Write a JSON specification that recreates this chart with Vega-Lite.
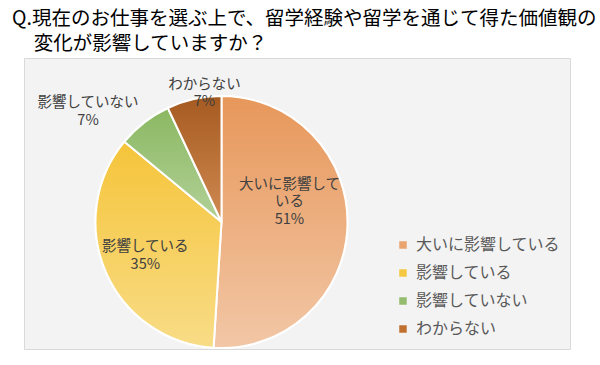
{
  "$schema": "https://vega.github.io/schema/vega-lite/v6.json",
  "autosize": "none",
  "padding": {"left": 24, "top": 58, "right": 30, "bottom": 16},
  "width": 546,
  "height": 291,
  "background": "white",
  "config": {
    "view": {"fill": "#F3F3F3", "stroke": "#D9D9D9", "strokeWidth": 1},
    "font": "Noto Sans CJK JP"
  },
  "title": {
    "text": ["Q.現在のお仕事を選ぶ上で、留学経験や留学を通じて得た価値観の", "\u200b\u00a0\u00a0\u00a0\u00a0\u00a0変化が影響していますか？"],
    "anchor": "start",
    "frame": "group",
    "font": "Noto Sans CJK JP",
    "fontSize": 19.5,
    "fontWeight": "normal",
    "color": "#000000",
    "lineHeight": 25,
    "dx": -12,
    "offset": 4
  },
  "data": {
    "values": [
      {"idx": 1, "cat": "大いに影響している", "value": 51, "label": "大いに影響して\nいる\n51%"},
      {"idx": 2, "cat": "影響している", "value": 35, "label": "影響している\n35%"},
      {"idx": 3, "cat": "影響していない", "value": 7, "label": "影響していない\n7%"},
      {"idx": 4, "cat": "わからない", "value": 7, "label": "わからない\n7%"}
    ]
  },
  "encoding": {
    "theta": {"field": "value", "type": "quantitative", "stack": true},
    "order": {"field": "idx", "type": "quantitative"},
    "x": {"value": 197.5},
    "y": {"value": 164}
  },
  "layer": [
    {
      "mark": {"type": "arc", "outerRadius": 126, "stroke": "white", "strokeWidth": 2},
      "encoding": {
        "color": {
          "field": "cat",
          "type": "nominal",
          "scale": {
            "domain": ["大いに影響している", "影響している", "影響していない", "わからない"],
            "range": ["#E9A46F", "#F5C842", "#93BC6E", "#C0712F"]
          },
          "legend": {
            "title": null,
            "orient": "none",
            "legendX": 371,
            "legendY": 179,
            "padding": 0,
            "symbolType": "square",
            "symbolSize": 56,
            "symbolStrokeWidth": 0,
            "labelFont": "Noto Sans CJK JP",
            "labelFontSize": 16,
            "labelColor": "#595959",
            "labelOffset": 5,
            "rowPadding": 12,
            "labelLimit": 300
          }
        }
      }
    },
    {
      "mark": {"type": "arc", "outerRadius": 126, "stroke": "white", "strokeWidth": 2},
      "encoding": {
        "fill": {
          "condition": [
            {"test": "datum.idx === 1", "value": {"gradient": "linear", "x1": 0, "y1": 0, "x2": 0, "y2": 1, "stops": [{"offset": 0, "color": "#E7975A"}, {"offset": 1, "color": "#F2C7A6"}]}},
            {"test": "datum.idx === 2", "value": {"gradient": "linear", "x1": 0, "y1": 0, "x2": 0, "y2": 1, "stops": [{"offset": 0, "color": "#F5C43A"}, {"offset": 1, "color": "#F8DC86"}]}},
            {"test": "datum.idx === 3", "value": {"gradient": "linear", "x1": 0, "y1": 0, "x2": 0, "y2": 1, "stops": [{"offset": 0, "color": "#8BB862"}, {"offset": 1, "color": "#B2D198"}]}}
          ],
          "value": {"gradient": "linear", "x1": 0, "y1": 0, "x2": 0, "y2": 1, "stops": [{"offset": 0, "color": "#A55A20"}, {"offset": 1, "color": "#D08A52"}]}
        }
      }
    },
    {
      "mark": {"type": "text", "radius": 70, "dx": -2, "dy": -39.5, "fontSize": 14.5, "lineBreak": "\n", "lineHeight": 17.5, "color": "#404040", "align": "center", "baseline": "middle"},
      "encoding": {"text": {"condition": {"test": "datum.idx === 1", "field": "label"}, "value": ""}}
    },
    {
      "mark": {"type": "text", "radius": 83, "dx": 0, "dy": -7.5, "fontSize": 14.5, "lineBreak": "\n", "lineHeight": 17.5, "color": "#404040", "align": "center", "baseline": "middle"},
      "encoding": {"text": {"condition": {"test": "datum.idx === 2", "field": "label"}, "value": ""}}
    },
    {
      "mark": {"type": "text", "radius": 150, "dx": -41.5, "dy": -0.5, "fontSize": 14.5, "lineBreak": "\n", "lineHeight": 18, "color": "#404040", "align": "center", "baseline": "middle"},
      "encoding": {"text": {"condition": {"test": "datum.idx === 3", "field": "label"}, "value": ""}}
    },
    {
      "mark": {"type": "text", "radius": 133, "dx": 12, "dy": -7, "fontSize": 14.5, "lineBreak": "\n", "lineHeight": 17, "color": "#404040", "align": "center", "baseline": "middle"},
      "encoding": {"text": {"condition": {"test": "datum.idx === 4", "field": "label"}, "value": ""}}
    }
  ]
}
